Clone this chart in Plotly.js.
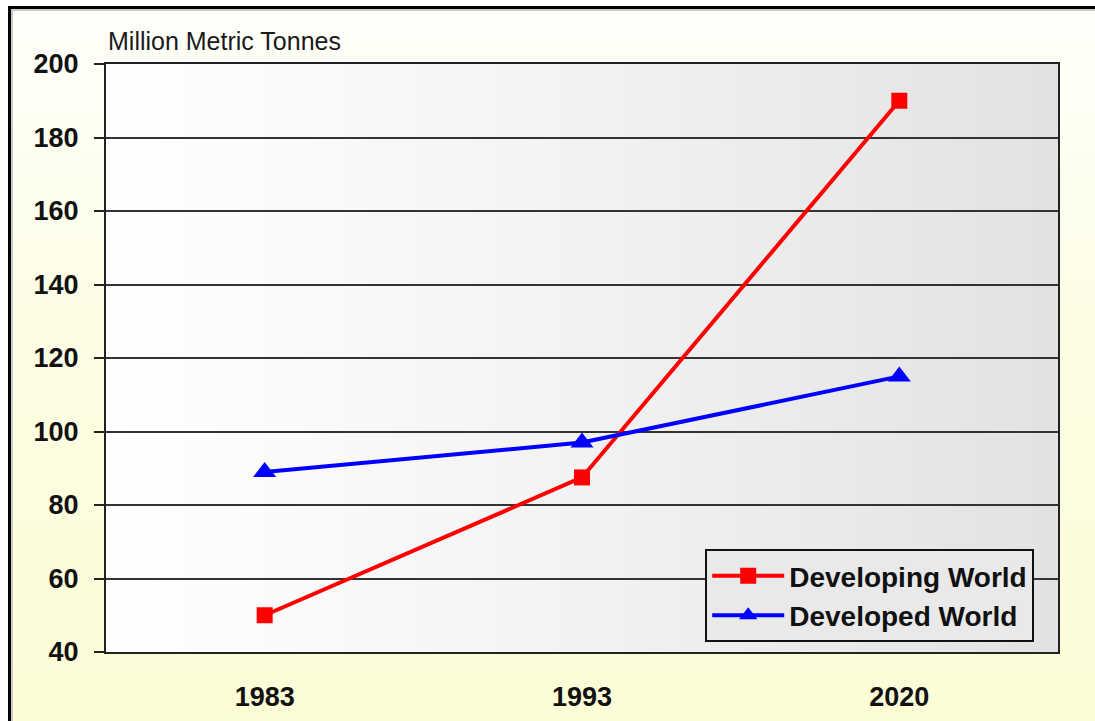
<!DOCTYPE html>
<html>
<head>
<meta charset="utf-8">
<script src="https://cdn.plot.ly/plotly-3.0.1.min.js"></script>
<style>
  html, body { margin: 0; padding: 0; background: #ffffff; overflow: hidden; }
  #wrap { position: relative; width: 1095px; height: 721px; overflow: hidden; }
  #frame {
    position: absolute; left: 8px; top: 6px; width: 1200px; height: 800px;
    border-left: 3px solid #000; border-top: 3px solid #000;
    box-shadow: inset 2px 2px 0 #c8c8c8;
    background: linear-gradient(to bottom, #fffffb 0px, #fdfde6 300px, #fcfcd6 715px);
  }
  #plotbg {
    position: absolute; left: 106px; top: 64px; width: 952px; height: 588px;
    background: linear-gradient(to right, #ffffff 0%, #f4f4f4 45%, #e2e2e2 100%);
  }
  #chart { position: absolute; left: 0; top: 0; width: 1095px; height: 721px; }
</style>
</head>
<body>
<div id="wrap">
  <div id="frame"></div>
  <div id="plotbg"></div>
  <div id="chart"></div>
</div>
<script>
// Years shown on the category axis
const years = ['1983', '1993', '2020'];
// Million metric tonnes per region
const developingWorld = [50, 87.5, 190];
const developedWorld = [89, 97, 115];
const yTickValues = [40, 60, 80, 100, 120, 140, 160, 180, 200];
const unitLabel = 'Million Metric Tonnes';

const font = 'Liberation Sans, Arial, sans-serif';

const traces = [
  {
    x: years, y: developingWorld, name: 'Developing World',
    type: 'scatter', mode: 'lines+markers',
    line: { color: '#ff0000', width: 4 },
    marker: { symbol: 'square', size: 16, color: '#ff0000' }
  },
  {
    x: years, y: developedWorld, name: 'Developed World',
    type: 'scatter', mode: 'lines+markers',
    line: { color: '#0000ff', width: 4 },
    marker: { symbol: 'triangle-up', size: 20, color: '#0000ff' }
  }
];

const layout = {
  width: 1095, height: 721,
  margin: { l: 106, r: 37, t: 64, b: 69 },
  paper_bgcolor: 'rgba(0,0,0,0)',
  plot_bgcolor: 'rgba(0,0,0,0)',
  showlegend: true,
  font: { family: font, color: '#111' },
  xaxis: {
    type: 'category',
    range: [-0.5, 2.5],
    showgrid: false,
    zeroline: false,
    showline: true, linecolor: '#222', linewidth: 2, mirror: true,
    ticks: '',
    ticklabelstandoff: 20,
    tickfont: { family: font, size: 27, color: '#111', weight: 'bold' }
  },
  yaxis: {
    range: [40, 200],
    tickvals: yTickValues,
    ticktext: yTickValues.map(String),
    showgrid: true, gridcolor: '#333', gridwidth: 2,
    zeroline: false,
    showline: true, linecolor: '#222', linewidth: 2, mirror: true,
    ticks: 'outside', ticklen: 10, tickwidth: 2, tickcolor: '#222',
    ticklabelstandoff: 10,
    tickfont: { family: font, size: 27, color: '#111', weight: 'bold' }
  },
  legend: {
    x: 0.975, xanchor: 'right',
    y: 0.175, yanchor: 'top',
    bgcolor: '#e9e9e9',
    bordercolor: '#111', borderwidth: 2,
    itemwidth: 72,
    tracegroupgap: 0,
    font: { family: font, size: 28, color: '#111', weight: 'bold' }
  },
  annotations: [
    {
      text: unitLabel,
      xref: 'paper', yref: 'paper', x: 0, y: 1,
      xanchor: 'left', yanchor: 'middle', yshift: 23,
      showarrow: false,
      font: { family: font, size: 25, color: '#1a1a1a' }
    }
  ]
};

Plotly.newPlot('chart', traces, layout, { displayModeBar: false, staticPlot: true });
</script>
</body>
</html>
